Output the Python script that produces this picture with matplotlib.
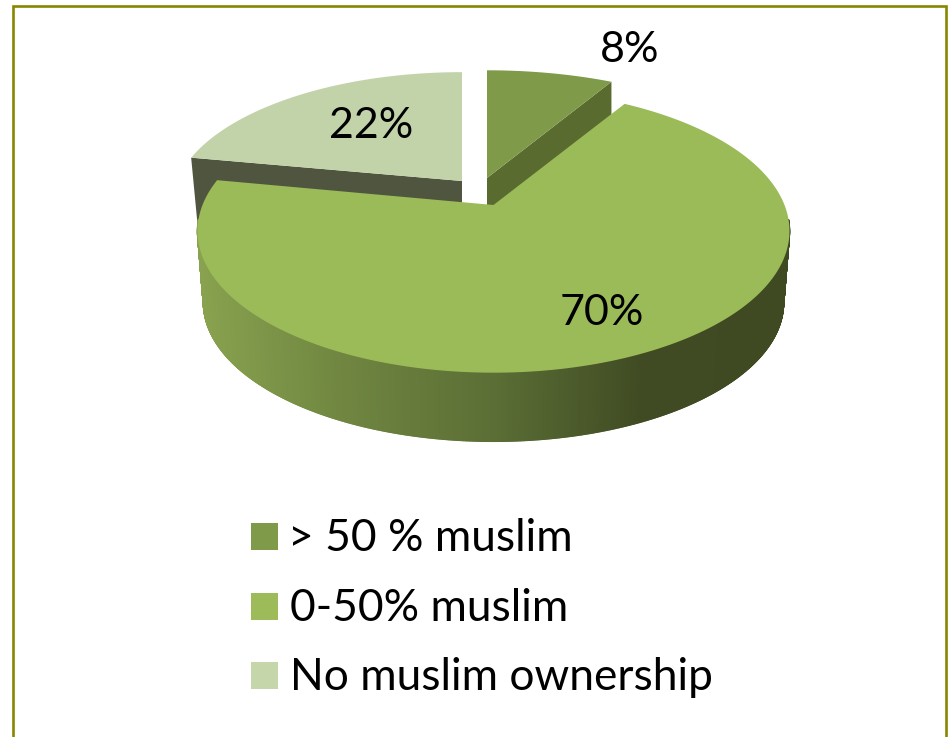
import numpy as np
import matplotlib
matplotlib.use('Agg')
import matplotlib.pyplot as plt
from matplotlib.collections import PolyCollection
from matplotlib.colors import LinearSegmentedColormap
from matplotlib.patches import Polygon, Rectangle

labels = ['> 50 % muslim', '0-50% muslim', 'No muslim ownership']
shares = [8, 70, 22]
top_colors = ['#7f9a48', '#9bbb59', '#c3d3a9']
side_colors = ['#5a6b30', '#9bbb59', '#50553f']
legend_colors = ['#7f9a48', '#9dbc59', '#c6d6ab']
wall_colors = ['#88a24f', '#6f8540', '#5b6e35', '#404b23', '#3f4a23']

# perspective of the tilted pie
PERSP = 0.183
RX = 291
RY = 137
DEPTH = 71
DEPTH_SCALE = 0.98
# the big slice's cut edge is turned a little by the perspective
BIG_TURN = np.radians(2.6)
# only this arc of the big slice's wall faces the viewer
WALL_ARC = np.radians([96, 264])


def project(theta, apex, sx=1.0, sy=1.0):
    # theta in radians, clockwise from twelve o'clock
    u = np.sin(theta)
    v = np.cos(theta)
    w = 1 + PERSP * v
    return apex[0] + sx * RX * u / w, apex[1] - sy * RY * v / w


def top_outline(start, end, apex, sx, sy):
    t = np.linspace(start, end, 200)
    x, y = project(t, apex, sx, sy)
    return np.vstack([[apex[0], apex[1]], np.column_stack([x, y])])


fig = plt.figure(figsize=(9.48, 7.37), dpi=100)
ax = fig.add_axes([0, 0, 1, 1])
ax.set_xlim(0, 948)
ax.set_ylim(737, 0)
ax.axis('off')

# frame is open at the bottom
ax.plot([13, 13, 946, 946], [737, 6, 6, 737], color='#878700', lw=1.9,
        solid_joinstyle='miter', solid_capstyle='butt')

edges = np.cumsum([0] + shares) / sum(shares) * 2 * np.pi

# exploded slices: apex position and scale
small = dict(apex=(487, 178), sx=1.03, sy=0.93)
big = dict(apex=(493.5, 205), sx=1.0, sy=1.0)
pale = dict(apex=(462, 181), sx=0.98, sy=0.94)

# cut faces of the two back slices, the big slice covers their lower part
x1, y1 = project(edges[1], small['apex'], small['sx'], small['sy'])
ax.add_patch(Polygon([small['apex'], (x1, y1), (x1, y1 + DEPTH),
                      (small['apex'][0], small['apex'][1] + DEPTH)],
                     fc=side_colors[0], ec='none', zorder=2))
x2, y2 = project(edges[2], pale['apex'], pale['sx'], pale['sy'])
x2b = pale['apex'][0] + (x2 - pale['apex'][0]) * 0.975
ax.add_patch(Polygon([pale['apex'], (x2, y2), (x2b, y2 + DEPTH),
                      (pale['apex'][0], pale['apex'][1] + DEPTH)],
                     fc=side_colors[2], ec='none', zorder=2))

ax.add_patch(Polygon(top_outline(edges[0], edges[1], small['apex'], small['sx'], small['sy']),
                     fc=top_colors[0], ec='none', zorder=3))
ax.add_patch(Polygon(top_outline(edges[2], edges[3], pale['apex'], pale['sx'], pale['sy']),
                     fc=top_colors[2], ec='none', zorder=3))

# outer wall of the big slice, shaded from left to right
cmap = LinearSegmentedColormap.from_list('wall', list(zip([0, 0.25, 0.5, 0.75, 1.0], wall_colors)))
t = np.linspace(WALL_ARC[0], WALL_ARC[1], 721)
xt, yt = project(t, big['apex'])
xb, yb = project(t, (big['apex'][0], big['apex'][1] + DEPTH + 1), DEPTH_SCALE, DEPTH_SCALE)
quads = [[(xt[i], yt[i]), (xt[i + 1], yt[i + 1]), (xb[i + 1], yb[i + 1]), (xb[i], yb[i])]
         for i in range(len(t) - 1)]
shade = np.clip((xb[:-1] - 203) / (640 - 203) * 0.75, 0, 1)
face = cmap(shade)
ax.add_collection(PolyCollection(quads, facecolors=face, edgecolors=face, linewidths=1.0, zorder=4))

ax.add_patch(Polygon(top_outline(edges[1] + BIG_TURN, edges[2], big['apex'], 1, 1),
                     fc=top_colors[1], ec='none', zorder=5))

# value labels
label_pos = [(630, 50), (602, 313), (371, 126)]
for val, pos in zip(shares, label_pos):
    ax.text(pos[0], pos[1], '%d%%' % val, fontsize=31, family='Lato', color='black',
            ha='center', va='center', zorder=6)

# legend
legend_y = [536.5, 606.5, 675.5]
legend_x = [288, 290, 290]
for name, col, x, y in zip(labels, legend_colors, legend_x, legend_y):
    ax.add_patch(Rectangle((251, y - 13.5), 27, 27, fc=col, ec='none', zorder=6))
    ax.text(x, y + 2, name, fontsize=31.9, family='Lato', color='black',
            ha='left', va='center', zorder=6)

plt.savefig('out.png', dpi=100)
